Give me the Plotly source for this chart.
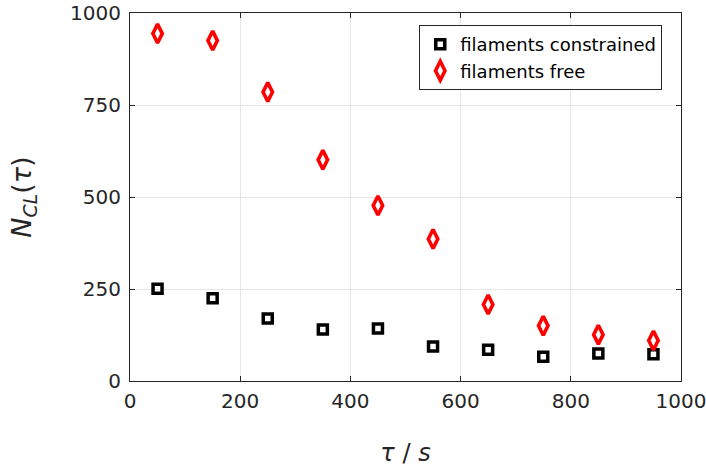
import plotly.graph_objects as go

tau = [50, 150, 250, 350, 450, 550, 650, 750, 850, 950]
n_constrained = [251, 225, 170, 140, 143, 94, 85, 66, 75, 73]
n_free = [944, 925, 785, 601, 477, 386, 208, 150, 126, 110]

x_ticks = [0, 200, 400, 600, 800, 1000]
y_ticks = [0, 250, 500, 750, 1000]

font_family = "DejaVu Sans, Liberation Sans, sans-serif"
axis_color = "#262626"

fig = go.Figure()
fig.add_trace(go.Scatter(
    x=tau, y=n_constrained, mode="markers", name="filaments constrained",
    marker=dict(symbol="square-open", size=9, color="black",
                line=dict(width=3.5, color="black")),
))
fig.add_trace(go.Scatter(
    x=tau, y=n_free, mode="markers", name="filaments free",
    marker=dict(symbol="diamond-tall-open", size=13.5, color="red",
                line=dict(width=3.6, color="red")),
))

axis_common = dict(
    showgrid=True, gridcolor="#e6e6e6", gridwidth=1,
    showline=True, linecolor=axis_color, linewidth=1, mirror="allticks",
    ticks="inside", ticklen=5, tickcolor=axis_color, tickwidth=1,
    zeroline=False, automargin=False, ticklabeloverflow="allow",
    tickfont=dict(family=font_family, size=20, color=axis_color),
)

fig.update_xaxes(
    range=[0, 1000], tickvals=x_ticks, **axis_common,
    ticklabelstandoff=2,
    title=dict(text="<i>τ</i> / <i>s</i>", standoff=33,
               font=dict(family=font_family, size=24, color=axis_color)),
)
fig.update_yaxes(
    range=[0, 1000], tickvals=y_ticks, **axis_common,
    ticklabelstandoff=4,
    title=dict(text="<i>N</i><sub><i>CL</i></sub>(<i>τ</i>)", standoff=30,
               font=dict(family=font_family, size=27, color=axis_color)),
)

fig.update_layout(
    width=706, height=467,
    margin=dict(l=130, r=25, t=13, b=86),
    plot_bgcolor="white", paper_bgcolor="white",
    showlegend=True,
    legend=dict(
        x=0.966, y=0.967, xanchor="right", yanchor="top",
        bgcolor="white", bordercolor=axis_color, borderwidth=1,
        font=dict(family=font_family, size=18, color="black"),
        itemwidth=30, tracegroupgap=0,
    ),
)

fig.write_html("out.html")
